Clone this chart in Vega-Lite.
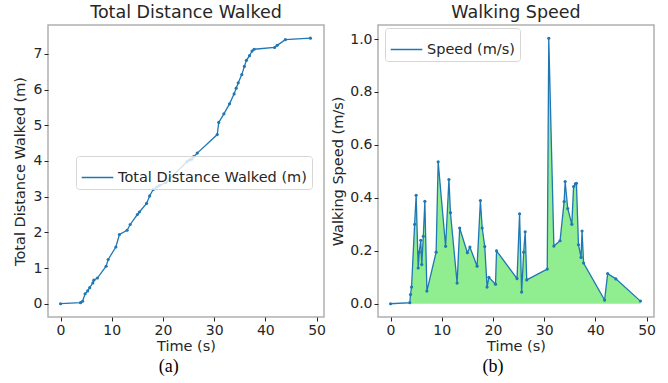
{
  "$schema": "https://vega.github.io/schema/vega-lite/v6.json",
  "padding": {"left": 11, "top": 2, "right": 4, "bottom": 2},
  "background": "white",
  "spacing": 2,
  "datasets": {
    "distance": [
      {"t": 0, "d": 0}, {"t": 3.9, "d": 0.03}, {"t": 4.3, "d": 0.07}, {"t": 4.8, "d": 0.28},
      {"t": 5.3, "d": 0.36}, {"t": 5.7, "d": 0.45}, {"t": 6.3, "d": 0.58}, {"t": 6.5, "d": 0.66},
      {"t": 7.2, "d": 0.72}, {"t": 8.9, "d": 1.05}, {"t": 9.3, "d": 1.24}, {"t": 10.8, "d": 1.59},
      {"t": 11.5, "d": 1.94}, {"t": 13.0, "d": 2.06}, {"t": 13.6, "d": 2.22}, {"t": 15.0, "d": 2.5},
      {"t": 15.4, "d": 2.57}, {"t": 16.8, "d": 2.81}, {"t": 17.4, "d": 3.02}, {"t": 18.1, "d": 3.2},
      {"t": 18.8, "d": 3.27}, {"t": 19.3, "d": 3.31}, {"t": 20.6, "d": 3.4}, {"t": 24.7, "d": 3.98},
      {"t": 25.2, "d": 4.03}, {"t": 25.6, "d": 4.05}, {"t": 26.0, "d": 4.12}, {"t": 26.7, "d": 4.22},
      {"t": 30.6, "d": 4.74}, {"t": 30.9, "d": 5.08}, {"t": 31.9, "d": 5.32}, {"t": 33.0, "d": 5.6},
      {"t": 33.9, "d": 5.88}, {"t": 34.3, "d": 6.04}, {"t": 34.7, "d": 6.19}, {"t": 35.4, "d": 6.42},
      {"t": 35.9, "d": 6.65}, {"t": 36.3, "d": 6.82}, {"t": 36.9, "d": 6.95}, {"t": 37.4, "d": 7.08},
      {"t": 37.8, "d": 7.13}, {"t": 41.8, "d": 7.18}, {"t": 42.3, "d": 7.24}, {"t": 43.9, "d": 7.4},
      {"t": 48.8, "d": 7.44}
    ],
    "speed": [
      {"t": 0, "s": 0}, {"t": 3.76, "s": 0.004}, {"t": 3.9, "s": 0.035}, {"t": 4.1, "s": 0.063},
      {"t": 4.7, "s": 0.3}, {"t": 5.0, "s": 0.41}, {"t": 5.4, "s": 0.135}, {"t": 5.6, "s": 0.195},
      {"t": 5.9, "s": 0.24}, {"t": 6.1, "s": 0.148}, {"t": 6.4, "s": 0.255}, {"t": 6.7, "s": 0.387},
      {"t": 7.1, "s": 0.048}, {"t": 8.9, "s": 0.195}, {"t": 9.3, "s": 0.536}, {"t": 10.75, "s": 0.217},
      {"t": 11.4, "s": 0.469}, {"t": 11.7, "s": 0.344}, {"t": 13.0, "s": 0.078}, {"t": 13.5, "s": 0.286},
      {"t": 15.0, "s": 0.193}, {"t": 15.5, "s": 0.214}, {"t": 16.9, "s": 0.142}, {"t": 17.55, "s": 0.39},
      {"t": 17.9, "s": 0.286}, {"t": 18.4, "s": 0.216}, {"t": 18.85, "s": 0.063}, {"t": 19.2, "s": 0.1},
      {"t": 20.5, "s": 0.074}, {"t": 20.7, "s": 0.2}, {"t": 24.7, "s": 0.095}, {"t": 25.2, "s": 0.34},
      {"t": 25.6, "s": 0.044}, {"t": 26.0, "s": 0.195}, {"t": 26.3, "s": 0.272}, {"t": 26.6, "s": 0.09},
      {"t": 30.6, "s": 0.131}, {"t": 30.9, "s": 1.003}, {"t": 31.9, "s": 0.218}, {"t": 33.1, "s": 0.238},
      {"t": 33.9, "s": 0.386}, {"t": 34.1, "s": 0.462}, {"t": 34.6, "s": 0.36}, {"t": 35.4, "s": 0.3},
      {"t": 35.75, "s": 0.443}, {"t": 36.1, "s": 0.453}, {"t": 36.3, "s": 0.455}, {"t": 36.7, "s": 0.223},
      {"t": 37.2, "s": 0.175}, {"t": 37.4, "s": 0.275}, {"t": 37.7, "s": 0.154}, {"t": 41.8, "s": 0.014},
      {"t": 42.4, "s": 0.114}, {"t": 44.0, "s": 0.094}, {"t": 48.8, "s": 0.01}
    ]
  },
  "config": {
    "font": "DejaVu Sans",
    "view": {"stroke": "#b0b0b0", "strokeWidth": 1.5},
    "axis": {
      "grid": false, "domain": false, "labelFont": "DejaVu Sans", "titleFont": "DejaVu Sans",
      "labelFontSize": 14, "titleFontSize": 14.5, "titleFontWeight": "normal",
      "labelColor": "#262626", "titleColor": "#262626", "tickColor": "#262626",
      "tickSize": 4, "labelPadding": 2
    },
    "title": {"fontSize": 17.5, "fontWeight": "normal", "color": "#262626", "font": "DejaVu Sans", "offset": 4},
    "legend": {
      "labelFontSize": 14.5, "labelFont": "DejaVu Sans", "labelColor": "#262626", "labelLimit": 400,
      "symbolType": "stroke", "symbolSize": 1000, "symbolStrokeWidth": 1.3,
      "strokeColor": "#d6d6d6", "fillColor": "rgba(255,255,255,0.8)", "cornerRadius": 3, "padding": 5,
      "orient": "none", "title": null
    }
  },
  "hconcat": [
    {
      "title": {"text": "(a)", "orient": "bottom", "anchor": "middle", "font": "Liberation Serif", "fontSize": 18, "offset": 5, "color": "black"},
      "vconcat": [
        {
          "title": "Total Distance Walked",
          "width": 276, "height": 292,
          "data": {"name": "distance"},
          "encoding": {
            "x": {"field": "t", "type": "quantitative", "title": "Time (s)",
                  "scale": {"domain": [-2.45, 51.45], "nice": false, "zero": false},
                  "axis": {"values": [0, 10, 20, 30, 40, 50], "titlePadding": 2}},
            "y": {"field": "d", "type": "quantitative", "title": "Total Distance Walked (m)",
                  "scale": {"domain": [-0.372, 7.81], "nice": false, "zero": false},
                  "axis": {"values": [0, 1, 2, 3, 4, 5, 6, 7], "titlePadding": 6}},
            "color": {"datum": "Total Distance Walked (m)", "type": "nominal",
                      "scale": {"range": ["#1f77b4"]},
                      "legend": {"legendX": 28, "legendY": 131}}
          },
          "layer": [
            {"mark": {"type": "line", "strokeWidth": 1.3}},
            {"mark": {"type": "point", "filled": true, "size": 10, "opacity": 1}}
          ]
        }
      ]
    },
    {
      "title": {"text": "(b)", "orient": "bottom", "anchor": "middle", "font": "Liberation Serif", "fontSize": 18, "offset": 5, "color": "black"},
      "vconcat": [
        {
          "title": "Walking Speed",
          "width": 276, "height": 292,
          "data": {"name": "speed"},
          "encoding": {
            "x": {"field": "t", "type": "quantitative", "title": "Time (s)",
                  "scale": {"domain": [-2.45, 51.45], "nice": false, "zero": false},
                  "axis": {"values": [0, 10, 20, 30, 40, 50], "titlePadding": 2}},
            "y": {"field": "s", "type": "quantitative", "title": "Walking Speed (m/s)",
                  "scale": {"domain": [-0.05, 1.053], "nice": false, "zero": false},
                  "axis": {"values": [0, 0.2, 0.4, 0.6, 0.8, 1.0], "format": ".1f", "titlePadding": 4}}
          },
          "layer": [
            {"mark": {"type": "area", "color": "#90ee90", "opacity": 1}, "encoding": {"y2": {"datum": 0}}},
            {"mark": {"type": "line", "strokeWidth": 1.3},
             "encoding": {"color": {"datum": "Speed (m/s)", "type": "nominal",
                          "scale": {"range": ["#1f77b4"]},
                          "legend": {"legendX": 7, "legendY": 3}}}},
            {"mark": {"type": "point", "filled": true, "size": 10, "opacity": 1, "color": "#1f77b4"}}
          ]
        }
      ]
    }
  ],
  "resolve": {"scale": {"color": "independent"}}
}
